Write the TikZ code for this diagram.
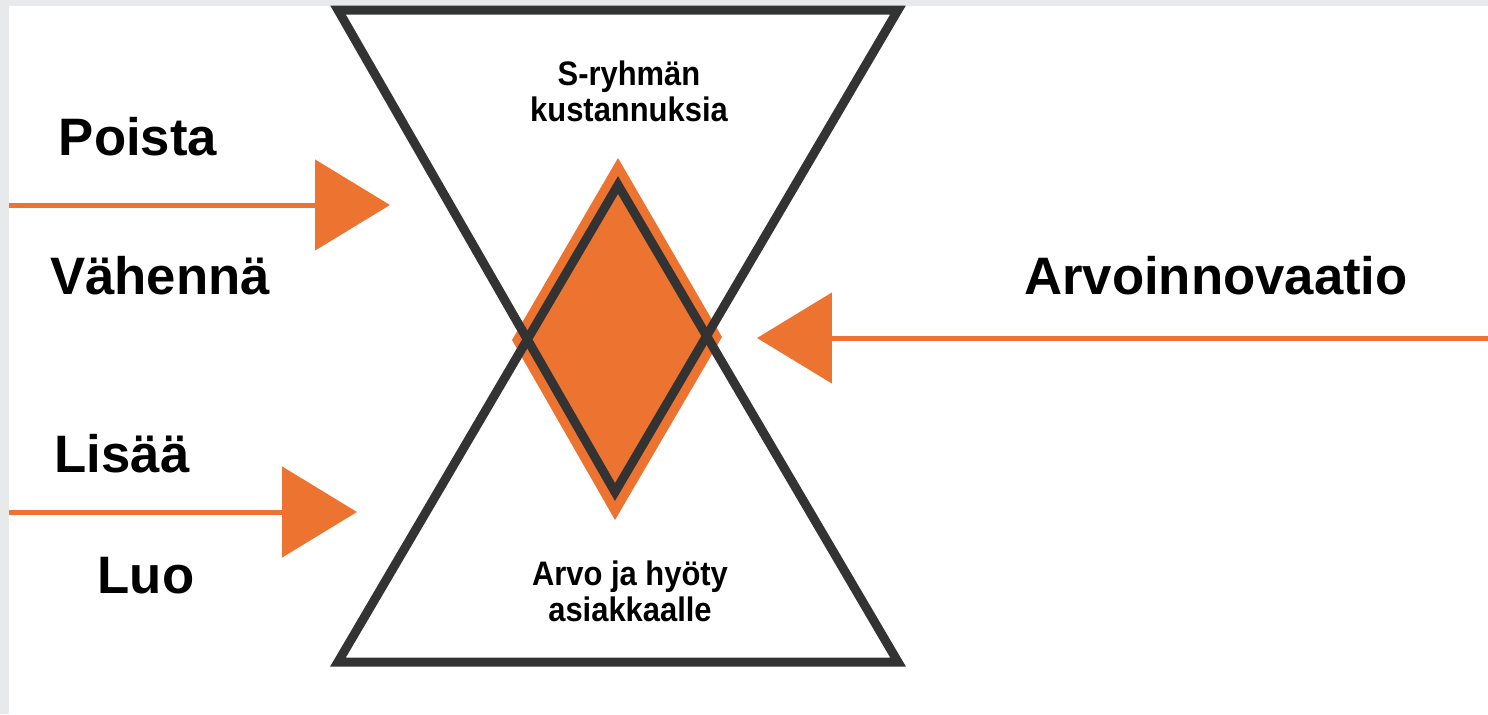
\documentclass[tikz,border=0pt]{standalone}
\usepackage{fontspec}
\usepackage{graphicx}
\setmainfont{Liberation Sans}
\usetikzlibrary{arrows.meta,positioning}
\definecolor{pieorange}{HTML}{ED7430}
\definecolor{hgray}{HTML}{333333}
\definecolor{framegray}{HTML}{E8E9EB}
\newcommand{\tallword}[1]{\scalebox{1}[1.1]{#1}}
\tikzset{
    bigword/.style = {font=\fontsize{30}{36}\selectfont\bfseries, anchor=base, inner sep=0pt},
    smallword/.style = {font=\fontsize{17.6}{20.5}\selectfont\bfseries, align=center, inner sep=0pt},
    hourglass/.style = {draw=hgray, line width=0.18cm, line join=miter},
    push/.style = {draw=pieorange, line width=0.1cm, -{Triangle[length=1.5cm,width=1.8cm]}},
    end/.style = {coordinate}
}

\begin{document}
\begin{tikzpicture}[x=0.02cm, y=-0.02cm]
        \useasboundingbox (0,0) rectangle (1488,714);
        \fill [framegray] (0,0) rectangle (1488,714);
        \fill [white] (9,6) rectangle (1488,714);
        % diamond behind the hourglass
        \coordinate (dtop) at (618,158);
        \coordinate (dright) at (722,337);
        \coordinate (dbot) at (615,520);
        \coordinate (dleft) at (512,340);
        \fill [pieorange] (dtop) -- (dright) -- (dbot) -- (dleft) -- cycle;
        % hourglass
        \draw [hourglass] (338,10) -- (898,10) -- (615,492) -- cycle;
        \draw [hourglass] (338,662) -- (898,662) -- (618,185) -- cycle;
        \node [smallword] (cost) at (629,91.5) {\tallword{S-ryhmän}\\\tallword{kustannuksia}};
        \node [smallword] (value) at (630,591.5) {\tallword{Arvo ja hyöty}\\\tallword{asiakkaalle}};
        % left side
        \node [bigword] (poista) at (138,155) {Poista};
        \node [bigword] (vahenna) at (160,294) {Vähennä};
        \node [bigword] (lisaa) at (122,472) {Lisää};
        \node [bigword] (luo) at (146,593) {Luo};
        \node [end] (in1) at (9,205) {};
        \node [end] (tip1) at (390,205) {};
        \node [end] (in2) at (9,512) {};
        \node [end] (tip2) at (357,512) {};
        \draw [push] (in1) -- (tip1);
        \draw [push] (in2) -- (tip2);
        % right side
        \node [bigword] (arvoinn) at (1216,294) {Arvoinnovaatio};
        \node [end] (in3) at (1488,338) {};
        \node [end] (tip3) at (757,338) {};
        \draw [push] (in3) -- (tip3);
\end{tikzpicture}
\end{document}
